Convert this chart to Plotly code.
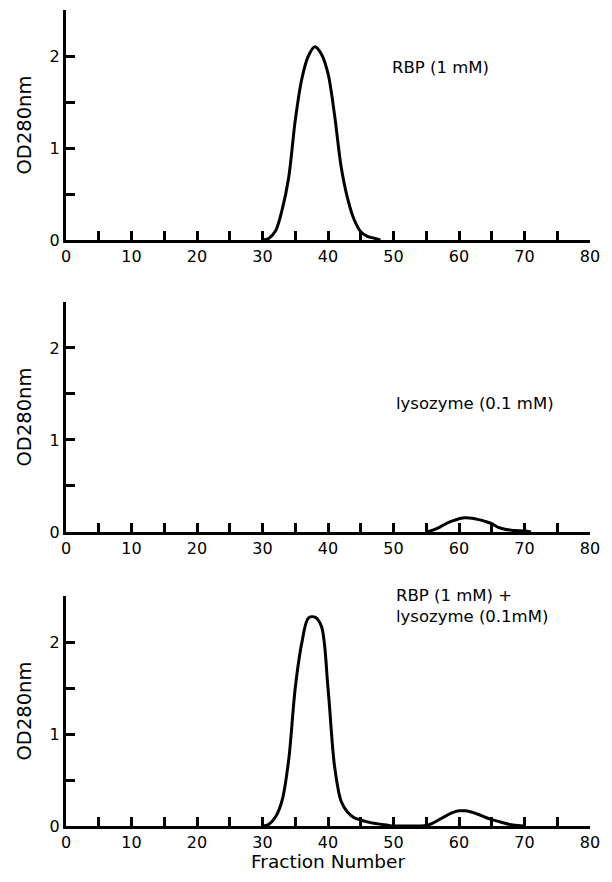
import plotly.graph_objects as go
from plotly.subplots import make_subplots

# Panel 1: RBP (1 mM)
rbp_x = [30, 31, 32, 33, 34, 35, 36, 37, 38, 39, 40, 41, 42, 43, 44, 45, 46, 47, 48]
rbp_y = [0.0, 0.02, 0.1, 0.33, 0.68, 1.3, 1.75, 2.0, 2.1, 2.02, 1.81, 1.36, 0.8, 0.45, 0.22, 0.09, 0.04, 0.02, 0.0]

# Panel 2: lysozyme (0.1 mM)
lys_x = [55, 56, 57, 58, 59, 60, 61, 62, 63, 64, 65, 66, 67, 68, 69, 70, 71]
lys_y = [0.0, 0.02, 0.05, 0.09, 0.12, 0.145, 0.155, 0.15, 0.135, 0.115, 0.09, 0.05, 0.03, 0.02, 0.015, 0.01, 0.0]

# Panel 3: RBP + lysozyme
mix_x = [30, 31, 32, 33, 34, 35, 36, 37, 38, 39, 40, 41, 42, 43, 44, 45, 46, 47, 48, 49, 50,
         53, 54, 55, 56, 57, 58, 59, 60, 61, 62, 63, 64, 65, 66, 67, 68, 69, 70]
mix_y = [0.0, 0.02, 0.1, 0.28, 0.72, 1.5, 1.99, 2.26, 2.27, 2.17, 1.5, 0.65, 0.27, 0.15, 0.09, 0.065, 0.045, 0.03, 0.02, 0.01, 0.0,
         0.0, 0.0, 0.005, 0.03, 0.07, 0.11, 0.145, 0.165, 0.165, 0.15, 0.125, 0.095, 0.07, 0.05, 0.03, 0.015, 0.005, 0.0]

x_tickvals = list(range(0, 81, 5))
x_ticktext = [str(v) if v % 10 == 0 else "" for v in x_tickvals]
y_tickvals = [0, 0.5, 1, 1.5, 2, 2.5]
y_ticktext = ["0", "", "1", "", "2", ""]

labels = ["RBP (1 mM)", "lysozyme (0.1 mM)", "RBP (1 mM) +<br>lysozyme (0.1mM)"]
label_x = [49.5, 50.0, 50.0]
label_y = [1.88, 1.40, 2.39]

FONT = "DejaVu Sans, Arial, sans-serif"

fig = make_subplots(rows=3, cols=1, vertical_spacing=0.0)

series = [(rbp_x, rbp_y), (lys_x, lys_y), (mix_x, mix_y)]
for i, (xs, ys) in enumerate(series):
    fig.add_trace(go.Scatter(x=xs, y=ys, mode="lines",
                             line=dict(color="black", width=3, shape="spline", smoothing=0.9),
                             showlegend=False, hoverinfo="skip"), row=i + 1, col=1)

domains = [[0.71814, 1.0], [0.36029, 0.64216], [0.0, 0.28186]]
for i in range(3):
    xa = "xaxis" if i == 0 else f"xaxis{i+1}"
    ya = "yaxis" if i == 0 else f"yaxis{i+1}"
    fig.layout[ya].update(domain=domains[i], range=[0, 2.5], tickvals=y_tickvals, ticktext=y_ticktext,
                          ticks="inside", ticklen=9, tickwidth=3, tickcolor="black",
                          showline=True, linewidth=3, linecolor="black", showgrid=False, zeroline=False,
                          tickfont=dict(family=FONT, size=16, color="black"),
                          title=dict(text="OD280nm", font=dict(family=FONT, size=19.5, color="black"), standoff=13))
    fig.layout[xa].update(range=[0, 80], tickvals=x_tickvals, ticktext=x_ticktext,
                          ticks="inside", ticklen=9, tickwidth=3, tickcolor="black",
                          showline=True, linewidth=3, linecolor="black", showgrid=False, zeroline=False,
                          tickfont=dict(family=FONT, size=16, color="black"))
    xref = "x" if i == 0 else f"x{i+1}"
    yref = "y" if i == 0 else f"y{i+1}"
    fig.add_annotation(x=label_x[i], y=label_y[i], xref=xref, yref=yref, text=labels[i],
                       showarrow=False, xanchor="left", align="left",
                       font=dict(family=FONT, size=16.5, color="black"))

# x-axis title of the bottom panel
fig.add_annotation(x=0.5, y=-0.044, xref="paper", yref="paper", text="Fraction Number",
                   showarrow=False, xanchor="center", yanchor="middle",
                   font=dict(family=FONT, size=18.5, color="black"))

fig.update_layout(width=596, height=866, margin=dict(l=58, r=14, t=2, b=48),
                  plot_bgcolor="white", paper_bgcolor="white",
                  font=dict(family=FONT, color="black"))

fig.write_html("out.html")
